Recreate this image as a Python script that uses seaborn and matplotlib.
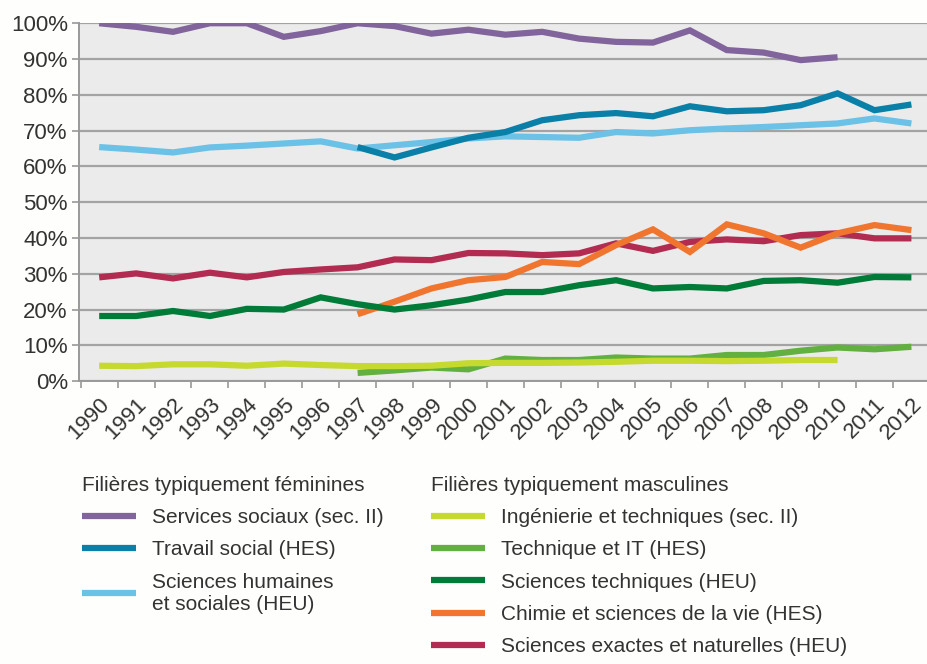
import numpy as np
import pandas as pd
import seaborn as sns
from matplotlib import pyplot as plt
from matplotlib.ticker import FixedLocator, PercentFormatter

years = list(range(1990, 2013))
nan = np.nan

# Filières typiquement féminines
services_sociaux = [100, 99, 97.6, 100, 100, 96.2, 97.8, 100, 99.2, 97.1, 98.2,
                    96.8, 97.6, 95.7, 94.8, 94.6, 98, 92.5, 91.8, 89.7, 90.5, nan, nan]
travail_social = [nan] * 7 + [65.4, 62.5, 65.3, 68.0,
                              69.6, 72.9, 74.3, 74.9, 74.0, 76.8, 75.4, 75.7, 77.1, 80.4, 75.7, 77.3]
sciences_humaines = [65.4, 64.7, 63.9, 65.3, 65.8, 66.4, 67.0, 65.0, 65.9, 66.8, 67.8,
                     68.4, 68.2, 68.0, 69.6, 69.2, 70.1, 70.6, 71.0, 71.5, 72.0, 73.4, 72.0]

# Filières typiquement masculines
ingenierie = [4.3, 4.2, 4.7, 4.7, 4.3, 4.9, 4.5, 4.2, 4.2, 4.3, 5.0,
              5.1, 5.1, 5.2, 5.4, 5.7, 5.7, 5.6, 5.7, 5.9, 5.9, nan, nan]
technique_it = [nan] * 7 + [2.3, 3.0, 3.8, 3.3,
                            6.3, 5.9, 5.9, 6.6, 6.3, 6.3, 7.3, 7.3, 8.5, 9.4, 8.9, 9.6]
sciences_techniques = [18.2, 18.2, 19.6, 18.2, 20.2, 20.0, 23.4, 21.5, 20.0, 21.2, 22.8,
                       24.9, 24.9, 26.8, 28.2, 25.9, 26.3, 25.9, 28.0, 28.2, 27.5, 29.1, 29.0]
chimie = [nan] * 7 + [18.7, 22.2, 25.9, 28.2,
                      29.1, 33.3, 32.7, 38.0, 42.4, 36.1, 43.8, 41.3, 37.3, 41.3, 43.6, 42.2]
sciences_exactes = [29.0, 30.1, 28.7, 30.3, 29.0, 30.5, 31.2, 31.8, 34.0, 33.8, 35.8,
                    35.7, 35.2, 35.7, 38.5, 36.4, 38.9, 39.6, 39.1, 40.8, 41.3, 39.9, 39.9]

feminines = [
    ("Services sociaux (sec. II)", services_sociaux, "#81649b"),
    ("Travail social (HES)", travail_social, "#0a7fa8"),
    ("Sciences humaines\net sociales (HEU)", sciences_humaines, "#6cc1e7"),
]
masculines = [
    ("Ingénierie et techniques (sec. II)", ingenierie, "#c6d92e"),
    ("Technique et IT (HES)", technique_it, "#62b03f"),
    ("Sciences techniques (HEU)", sciences_techniques, "#007b38"),
    ("Chimie et sciences de la vie (HES)", chimie, "#f07630"),
    ("Sciences exactes et naturelles (HEU)", sciences_exactes, "#b22b50"),
]

sns.set_style("white")
plt.rcParams['font.family'] = ['Liberation Sans', 'DejaVu Sans']
text_color = '#333333'

fig = plt.figure(figsize=(9.28, 6.64), dpi=100, facecolor='#fefefc')
ax = fig.add_axes([0.085, 0.426, 0.917, 0.539])
ax.set_facecolor('#ecebeb')

x = np.arange(len(years))
handles = {}
# draw in reverse order so the stacking matches the reference
for label, vals, color in masculines[::-1] + feminines[::-1]:
    df = pd.DataFrame({'x': x, 'y': vals}).dropna()
    sns.lineplot(data=df, x='x', y='y', color=color, lw=4.5, ax=ax,
                 solid_capstyle='butt', solid_joinstyle='miter', label=label)
    handles[label] = ax.get_lines()[-1]

ax.set_xlim(-0.55, len(years) - 0.5)
ax.set_ylim(0, 100)
ax.set_xlabel('')
ax.set_ylabel('')

ax.set_yticks(range(0, 101, 10))
ax.yaxis.set_major_formatter(PercentFormatter(decimals=0))
ax.set_xticks(x)
ax.set_xticklabels([str(y) for y in years], rotation=45, ha='right',
                   rotation_mode='anchor')
ax.xaxis.set_minor_locator(FixedLocator(np.arange(-0.5, len(years), 1.0)))
ax.tick_params(axis='x', which='major', length=0, pad=9, labelsize=16,
               labelcolor=text_color)
ax.tick_params(axis='x', which='minor', length=5, width=1.2, color='#999999',
               direction='out', bottom=True)
ax.tick_params(axis='y', length=5, width=1.2, color='#999999', pad=3,
               labelsize=16, labelcolor=text_color, left=True)

ax.grid(axis='y', color='#a3a3a3', lw=1.6)
ax.set_axisbelow(True)
sns.despine(ax=ax, top=True, right=True)
for side in ['left', 'bottom']:
    ax.spines[side].set_color('#999999')
    ax.spines[side].set_linewidth(1.4)
ax.get_legend().remove()

leg_kw = dict(frameon=False, fontsize=15, title_fontsize=15, handlelength=2.6,
              handletextpad=0.75, labelspacing=0.64, alignment='left',
              labelcolor=text_color)
leg1 = fig.legend([handles[l] for l, _, _ in feminines],
                  [l for l, _, _ in feminines],
                  title='Filières typiquement féminines',
                  loc='upper left', bbox_to_anchor=(0.068, 0.312), **leg_kw)
leg2 = fig.legend([handles[l] for l, _, _ in masculines],
                  [l for l, _, _ in masculines],
                  title='Filières typiquement masculines',
                  loc='upper left', bbox_to_anchor=(0.444, 0.312), **leg_kw)
for leg in (leg1, leg2):
    leg.get_title().set_color(text_color)

plt.savefig('out.png', dpi=100, facecolor=fig.get_facecolor())
